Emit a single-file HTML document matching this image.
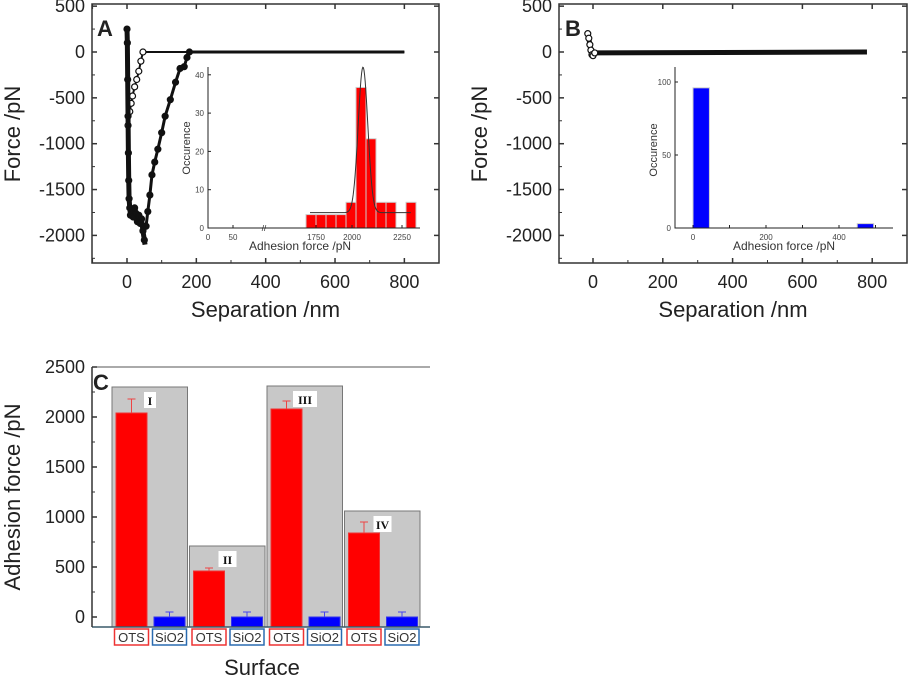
<!DOCTYPE html>
<html><head><meta charset="utf-8"><style>
body{margin:0;background:#fff}
svg{display:block;font-family:"Liberation Sans",sans-serif}
</style></head><body>
<svg id="s" width="908" height="679" viewBox="0 0 908 679"></svg>
<script>
// ---- data ----
const aTrace1=[[0,250],[1,100],[2,-300],[3,-700],[4,-1100],[5,-1400],[6,-1600],[8,-1700],[10,-1780],[14,-1720],[18,-1800],[22,-1700],[26,-1760],[30,-1850],[34,-1780],[38,-1870],[42,-1820],[46,-1950],[50,-2050],[52,-2100]];
const aTrace2=[[55,-1900],[60,-1740],[66,-1560],[72,-1340],[80,-1200],[89,-1060],[100,-880],[110,-700],[125,-520],[140,-330],[153,-180],[165,-160],[173,-60],[180,0],[800,0]];
const aTrace3=[[3,-800],[8,-650],[12,-560],[16,-480],[22,-380],[28,-300],[34,-210],[40,-100],[46,0],[800,0]];
const bTrace=[[-15,200],[-12,150],[-9,80],[-6,20],[-3,-30],[0,-40],[5,-10],[785,0]];
const forceTicks=[500,0,-500,-1000,-1500,-2000];
const sepTicks=[0,200,400,600,800];
const insetABins=[1800,1850,1900,1950,2000,2050,2100,2150,2200,2250,2300];
const insetACounts=[3.5,3.5,3.5,3.5,6.7,36.7,23.3,6.7,6.7,0,6.7];
const insetAGauss=[2085,24,42,4]; // center, sigma, peak, baseline
const insetBBins=[0,450];
const insetBCounts=[96,3];
const cGroups=['I','II','III','IV'];
const cGray=[2300,710,2310,1060];
const cOTS=[2040,460,2080,840];
const cOTSErr=[140,30,80,110];
const cSiO2=[0,0,0,0];
const cSiO2Err=[50,50,50,50];
const cTicks=[2500,2000,1500,1000,500,0];

const S=document.getElementById('s');const NS='http://www.w3.org/2000/svg';
function el(t,a,p){const e=document.createElementNS(NS,t);for(const k in a)e.setAttribute(k,a[k]);(p||S).appendChild(e);return e;}
function txt(x,y,s,size,anchor,extra){const e=el('text',Object.assign({x:x,y:y,'font-size':size,'text-anchor':anchor||'middle',fill:'#222'},extra||{}));e.textContent=s;return e;}

// ---- Panel A & B frames ----
function forcePanel(x0,x1,sx,tr,name){
  const g=el('g',{});
  
  
  const fy=v=>52-v*0.0917;
  el('rect',{x:x0,y:4,width:x1-x0,height:259,fill:'none',stroke:'#333','stroke-width':1.5},g);
  forceTicks.forEach(v=>{const y=fy(v);el('line',{x1:x0,x2:x0+5,y1:y,y2:y,stroke:'#333','stroke-width':1.5},g);el('line',{x1:x1,x2:x1-5,y1:y,y2:y,stroke:'#333','stroke-width':1.5},g);
    const t=txt(x0-7,y+6,String(v),18,'end',{},);g.appendChild(t);
    const ym=fy(v-250);if(ym<263)el('line',{x1:x0,x2:x0+3,y1:ym,y2:ym,stroke:'#333'},g);});
  [-100].concat(sepTicks).forEach(v=>{const x=sx(v);if(x<=x0)return;el('line',{x1:x,x2:x,y1:263,y2:258,stroke:'#333','stroke-width':1.5},g);el('line',{x1:x,x2:x,y1:4,y2:9,stroke:'#333','stroke-width':1.5},g);const xm=sx(v+100);if(xm<x1)el('line',{x1:xm,x2:xm,y1:263,y2:260,stroke:'#333'},g);});
  sepTicks.forEach(v=>{const t=txt(sx(v),288,String(v),18);g.appendChild(t);});
  const yt=txt(0,0,'Force /pN',22,'middle',{transform:`translate(${x0-72},134) rotate(-90)`});g.appendChild(yt);
  
  const xt=txt((x0+x1)/2,317,'Separation /nm',22);g.appendChild(xt);
  
  return {g,fy};
}
const sxA=v=>127+v*0.3467, sxB=v=>593+v*0.349;
const A=forcePanel(92,439,sxA,null,'panel-a');
const B=forcePanel(559,907,sxB,null,'panel-b');
function trace(pts,sx,fy,filled,name,g,w){
  const pl=el('polyline',{points:pts.map(p=>sx(p[0])+','+fy(p[1])).join(' '),fill:'none',stroke:'#111','stroke-width':w,'stroke-linejoin':'round'},g);
  
  pts.forEach((p,i)=>{if(i<pts.length-1||pts.length<3){const c=el('circle',{cx:sx(p[0]),cy:fy(p[1]),r:3,fill:filled?'#111':'#fff',stroke:'#111','stroke-width':1.2},g);}});
}
trace(aTrace3,sxA,A.fy,false,'approach-curve',A.g,2);
trace(aTrace2,sxA,A.fy,true,'retract-curve',A.g,3);
trace(aTrace1,sxA,A.fy,true,'jump-curve',A.g,5);
trace(bTrace,sxB,B.fy,false,'force-curve',B.g,5);
const la=txt(97,36,'A',22,'start',{'font-weight':'bold'});
const lb=txt(565,36,'B',22,'start',{'font-weight':'bold'});

// ---- Inset A ----
(function(){
  const g=el('g',{});
  const x0=208,y0=228,fx=v=>346+(v-2000)*0.2,fy=v=>y0-v*3.83;
  el('rect',{x:x0,y:67,width:212,height:161,fill:'#fff'},g);
  insetABins.forEach((b,i)=>{if(!insetACounts[i])return;const r=el('rect',{x:fx(b),y:fy(insetACounts[i]),width:fx(b+50)-fx(b),height:y0-fy(insetACounts[i]),fill:'#f00',stroke:'#ccc','stroke-width':1},g);});
  const [mu,sg,pk,base]=insetAGauss;let pts=[];
  for(let v=1820;v<=2325;v+=3)pts.push(fx(v)+','+fy(base+(pk-base)*Math.exp(-((v-mu)**2)/(2*sg*sg))));
  const gl=el('polyline',{points:pts.join(' '),fill:'none',stroke:'#333','stroke-width':1},g);
  el('polyline',{points:`${x0},67 ${x0},${y0} 420,${y0}`,fill:'none',stroke:'#222'},g);
  [0,10,20,30,40].forEach(v=>{el('line',{x1:x0,x2:x0+3,y1:fy(v),y2:fy(v),stroke:'#222'},g);txt(x0-4,fy(v)+3,String(v),8,'end',{fill:'#444'});});
  [[0,208],[50,233]].forEach(p=>{txt(p[1],240,String(p[0]),8,'middle',{fill:'#444'});el('line',{x1:p[1],x2:p[1],y1:y0,y2:y0-3,stroke:'#222'},g);});
  [1750,2000,2250].forEach(v=>{const x=v==1750?316:fx(v)+6;txt(x,240,String(v),8,'middle',{fill:'#444'});el('line',{x1:x,x2:x,y1:y0,y2:y0-3,stroke:'#222'},g);});
  txt(264,231,'//',8,'middle',{fill:'#222'});
  txt(0,0,'Occurence',11,'middle',{transform:'translate(190,148) rotate(-90)',fill:'#333'});
  txt(300,250,'Adhesion force /pN',12,'middle',{fill:'#333'});
})();
// ---- Inset B ----
(function(){
  const g=el('g',{});
  const x0=675,y0=228,fx=v=>693+v*0.365,fy=v=>y0-v*1.46;
  insetBBins.forEach((b,i)=>{const r=el('rect',{x:fx(b),y:fy(insetBCounts[i]),width:fx(b+45)-fx(b),height:y0-fy(insetBCounts[i]),fill:'#00f',stroke:'#ccc'},g);});
  el('polyline',{points:`${x0},67 ${x0},${y0} 893,${y0}`,fill:'none',stroke:'#222'},g);
  [0,50,100].forEach(v=>{el('line',{x1:x0,x2:x0+3,y1:fy(v),y2:fy(v),stroke:'#222'},g);txt(x0-4,fy(v)+3,String(v),8,'end',{fill:'#444'});});
  [0,100,200,300,400,500].forEach(v=>{el('line',{x1:fx(v),x2:fx(v),y1:y0,y2:y0-3,stroke:'#222'},g);if(v%200==0)txt(fx(v),240,String(v),8,'middle',{fill:'#444'});});
  txt(0,0,'Occurence',11,'middle',{transform:'translate(657,150) rotate(-90)',fill:'#333'});
  txt(784,250,'Adhesion force /pN',12,'middle',{fill:'#333'});
})();
// ---- Panel C ----
(function(){
  const g=el('g',{});
  const fy=v=>617-v*0.1,base=627,gx0=112,gw=77.5;
  cGroups.forEach((name,i)=>{
    const gx=gx0+i*gw;
    const r=el('rect',{x:gx,y:fy(cGray[i]),width:gw-2,height:base-fy(cGray[i]),fill:'#c8c8c8',stroke:'#777'},g);
    const ob=el('rect',{x:gx+4,y:fy(cOTS[i]),width:31,height:base-fy(cOTS[i]),fill:'#f00',stroke:'#e33'},g);
    const ox=gx+19.5;el('line',{x1:ox,x2:ox,y1:fy(cOTS[i]),y2:fy(cOTS[i]+cOTSErr[i]),stroke:'#e44'},g);el('line',{x1:ox-4,x2:ox+4,y1:fy(cOTS[i]+cOTSErr[i]),y2:fy(cOTS[i]+cOTSErr[i]),stroke:'#e44'},g);
    const sb=el('rect',{x:gx+42,y:fy(cSiO2[i]),width:31,height:base-fy(cSiO2[i]),fill:'#00f',stroke:'#33e'},g);
    const sx=gx+57.5;el('line',{x1:sx,x2:sx,y1:fy(cSiO2[i]),y2:fy(cSiO2[i]+cSiO2Err[i]),stroke:'#44e'},g);el('line',{x1:sx-4,x2:sx+4,y1:fy(cSiO2[i]+cSiO2Err[i]),y2:fy(cSiO2[i]+cSiO2Err[i]),stroke:'#44e'},g);
    const lw=name.length*6+6,lx=gx+38;
    el('rect',{x:lx-lw/2,y:fy(cGray[i])+5,width:lw,height:16,fill:'#fff'},g);
    const rt=txt(lx,fy(cGray[i])+18,name,12,'middle',{'font-family':'"Liberation Serif",serif','font-weight':'bold',fill:'#111'});g.appendChild(rt);
    [['OTS',gx+19.5,'#e33'],['SiO2',gx+57.5,'#2a6bb0']].forEach(l=>{el('rect',{x:l[1]-17,y:629,width:34,height:16,fill:'#fff',stroke:l[2],'stroke-width':1.5},g);const t=txt(l[1],642,l[0],13,'middle',{fill:'#333'});g.appendChild(t);});
  });
  el('line',{x1:92,x2:430,y1:base,y2:base,stroke:'#3a5a6a','stroke-width':1.5},g);
  el('line',{x1:92,x2:92,y1:367,y2:base,stroke:'#333','stroke-width':1.5},g);
  el('line',{x1:92,x2:430,y1:367,y2:367,stroke:'#555','stroke-width':1},g);
  cTicks.forEach(v=>{el('line',{x1:92,x2:97,y1:fy(v),y2:fy(v),stroke:'#333','stroke-width':1.5},g);if(fy(v-250)<base)el('line',{x1:92,x2:95,y1:fy(v-250),y2:fy(v-250),stroke:'#333'},g);const t=txt(85,fy(v)+6,String(v),18,'end');g.appendChild(t);});
  const yt=txt(0,0,'Adhesion force /pN',22,'middle',{transform:'translate(20,497) rotate(-90)'});g.appendChild(yt);
  const xt=txt(262,675,'Surface',22);g.appendChild(xt);
  const lc=txt(93,390,'C',22,'start',{'font-weight':'bold'});g.appendChild(lc);
})();
</script>
</body></html>
